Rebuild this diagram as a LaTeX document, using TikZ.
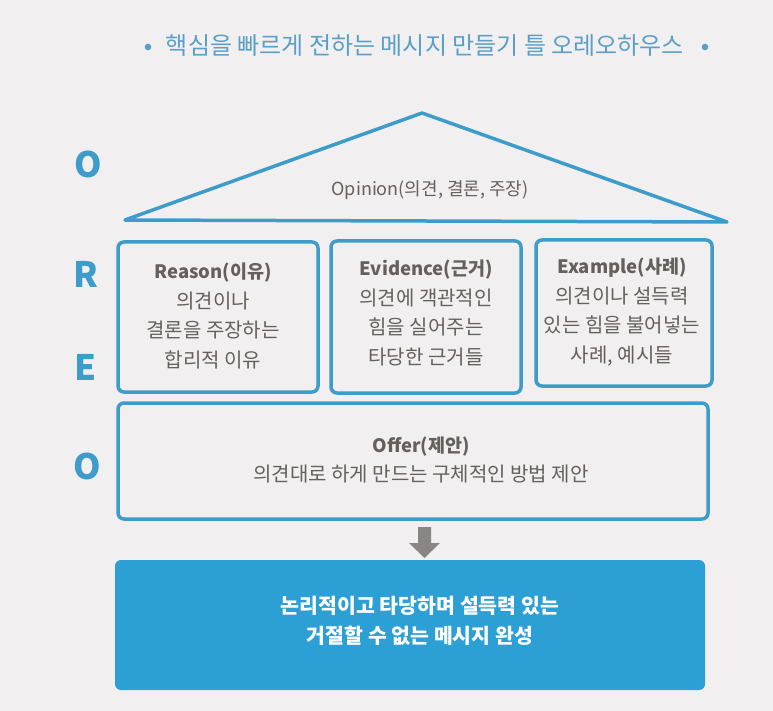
\documentclass[tikz,border=0pt]{standalone}
\usepackage{fontspec}
\setmainfont{Noto Sans CJK KR}
\usetikzlibrary{arrows.meta}
\definecolor{bgc}{HTML}{F2EFF1}
\definecolor{bl}{HTML}{3D9CC9}
\definecolor{blfill}{HTML}{2C9FD5}
\definecolor{txt}{HTML}{66605C}
\definecolor{ttl}{HTML}{5A9FC6}
\definecolor{arr}{HTML}{8A8684}
\newcommand\hdtxt[1]{{\fontsize{18.5}{29.5}\selectfont\bfseries #1}}
\tikzset{
  box/.style={draw=bl,line width=3.5pt,rounded corners=6pt,fill=none},
  letter/.style={text=bl,font=\fontsize{35}{35}\selectfont\bfseries},
  body/.style={text=txt,align=center,font=\fontsize{20}{29.5}\selectfont},
}
\begin{document}
\begin{tikzpicture}[x=1pt,y=-1pt]
\fill[bgc] (0,0) rectangle (773,711);
\useasboundingbox (0,0) rectangle (773,711);
% title
\node[text=ttl,font=\fontsize{24}{24}\selectfont] (title) at (425,46) {핵심을 빠르게 전하는 메시지 만들기 틀 오레오하우스};
\fill[ttl] (148,47) circle (3.3pt);
\fill[ttl] (705,47) circle (3.3pt);
% roof
\coordinate (apex) at (422,113);
\coordinate (lb) at (125,220);
\coordinate (rb) at (727,222);
\draw[bl,line width=3.5pt,line join=round] (apex) -- (rb) -- (lb) -- cycle;
\node[text=txt,font=\fontsize{18}{18}\selectfont] (opinion) at (430,190) {Opinion(의견, 결론, 주장)};
% letters
\node[letter] (L1) at (88,164) {O};
\node[letter] (L2) at (86,274) {R};
\node[letter] (L3) at (86,367) {E};
\node[letter] (L4) at (87,466) {O};
% boxes
\draw[box] (118,242) rectangle (318,392);
\node[body] (reason) at (213,316) {\hdtxt{Reason(이유)}\\의견이나\\결론을 주장하는\\합리적 이유};
\draw[box] (331,241) rectangle (521,393);
\node[body] (evidence) at (426,313) {\hdtxt{Evidence(근거)}\\의견에 객관적인\\힘을 실어주는\\타당한 근거들};
\draw[box] (536,240) rectangle (712,386);
\node[body] (example) at (622,312) {\hdtxt{Example(사례)}\\의견이나 설득력\\있는 힘을 불어넣는\\사례, 예시들};
\draw[box] (118,403) rectangle (708,519);
\node[body] (offer) at (421,460) {\hdtxt{Offer(제안)}\\의견대로 하게 만드는 구체적인 방법 제안};
% arrow
\fill[arr] (418,527) -- (431,527) -- (431,543) -- (440,543) -- (424.5,558) -- (409,543) -- (418,543) -- cycle;
\coordinate (arrow) at (424.5,543);
% result
\node[fill=blfill,rounded corners=6pt,minimum width=590pt,minimum height=130pt,inner sep=0pt] (result) at (410,625) {};
\node[text=white,align=center,font=\fontsize{20.5}{30}\selectfont\bfseries] (restext) at (420,621) {논리적이고 타당하며 설득력 있는\\거절할 수 없는 메시지 완성};
\end{tikzpicture}
\end{document}
